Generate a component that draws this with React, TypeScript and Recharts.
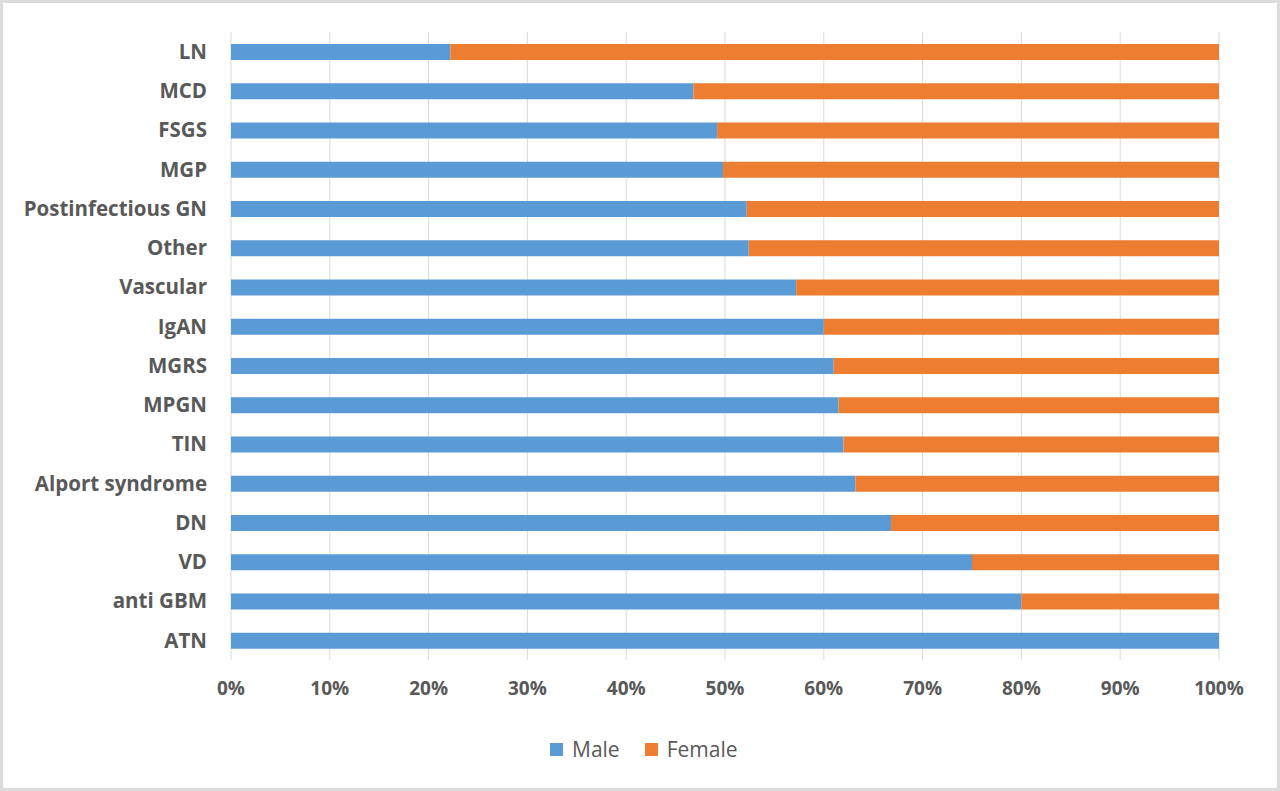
import React from 'react';
import { BarChart, Bar, XAxis, YAxis, CartesianGrid } from 'recharts';

const categories = [
  'LN', 'MCD', 'FSGS', 'MGP', 'Postinfectious GN', 'Other', 'Vascular', 'IgAN',
  'MGRS', 'MPGN', 'TIN', 'Alport syndrome', 'DN', 'VD', 'anti GBM', 'ATN',
];
const maleValues = [22.2, 46.8, 49.2, 49.8, 52.2, 52.4, 57.2, 60.0, 61.0, 61.5, 62.0, 63.2, 66.8, 75.0, 80.0, 100.0];
const femaleValues = [77.8, 53.2, 50.8, 50.2, 47.8, 47.6, 42.8, 40.0, 39.0, 38.5, 38.0, 36.8, 33.2, 25.0, 20.0, 0.0];
const xTicks = [0, 10, 20, 30, 40, 50, 60, 70, 80, 90, 100];
const seriesNames = ['Male', 'Female'];
const seriesColors = ['#5B9BD5', '#ED7D31'];

const data = categories.map((c, i) => ({ name: c, male: maleValues[i], female: femaleValues[i] }));

const FONT = '"Open Sans", "Liberation Sans", sans-serif';
const TEXT = '#595959';

export default function App() {
  return (
    <div
      style={{
        position: 'absolute',
        left: 0,
        top: 0,
        width: 1280,
        height: 791,
        background: '#ffffff',
        border: '3px solid #dcdcdc',
        boxSizing: 'border-box',
        fontFamily: FONT,
      }}
    >
      <div style={{ position: 'absolute', left: -3, top: -3 }}>
        <BarChart
          width={1280}
          height={791}
          data={data}
          layout="vertical"
          margin={{ top: 32, right: 61, bottom: 91, left: 0 }}
          barSize={16}
        >
          <CartesianGrid horizontal={false} vertical={true} stroke="#d9d9d9" />
          <XAxis
            type="number"
            domain={[0, 100]}
            ticks={xTicks}
            tickFormatter={(v: number) => `${v}%`}
            axisLine={false}
            tickLine={false}
            tickMargin={16}
            height={40}
            tick={{ fill: TEXT, fontSize: 19, fontFamily: FONT, fontWeight: 700 }}
            interval={0}
          />
          <YAxis
            type="category"
            dataKey="name"
            width={231}
            axisLine={false}
            tickLine={false}
            tickMargin={18}
            interval={0}
            tick={{ fill: TEXT, fontSize: 20.5, fontFamily: FONT, fontWeight: 700 }}
          />
          <Bar dataKey="male" name={seriesNames[0]} stackId="a" fill={seriesColors[0]} isAnimationActive={false} />
          <Bar dataKey="female" name={seriesNames[1]} stackId="a" fill={seriesColors[1]} isAnimationActive={false} />
        </BarChart>
      </div>
      <div
        style={{
          position: 'absolute',
          top: 732,
          left: 547,
          display: 'flex',
          alignItems: 'center',
          fontSize: 21,
          color: TEXT,
          fontFamily: FONT,
        }}
      >
        {seriesNames.map((n, i) => (
          <div key={n} style={{ display: 'flex', alignItems: 'center', marginRight: 25 }}>
            <span
              style={{ display: 'inline-block', width: 13, height: 13, background: seriesColors[i], marginRight: 9 }}
            />
            <span>{n}</span>
          </div>
        ))}
      </div>
    </div>
  );
}
